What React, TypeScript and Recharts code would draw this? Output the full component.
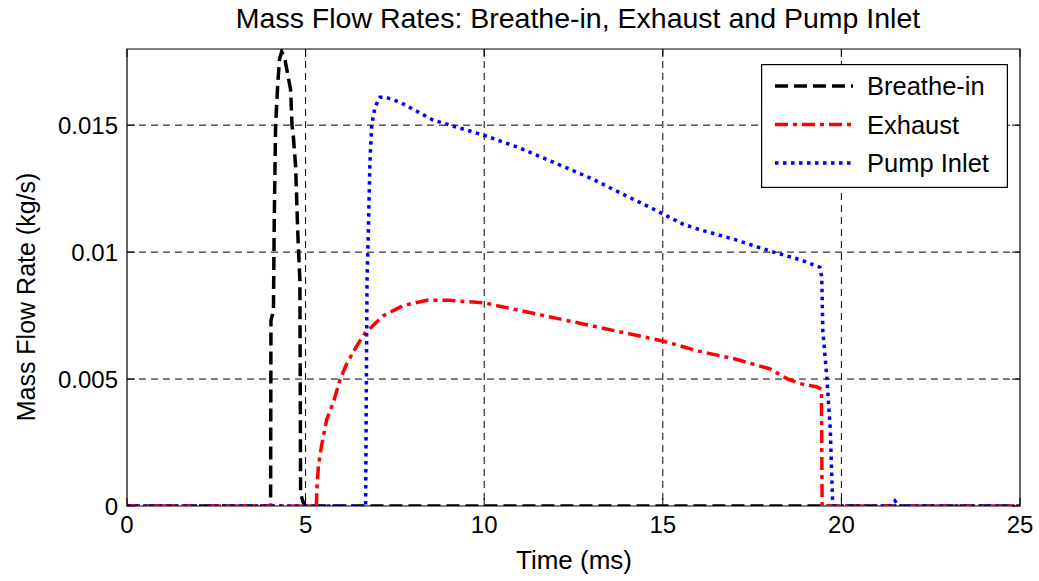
import React from "react";
import {
  LineChart,
  Line,
  XAxis,
  YAxis,
  CartesianGrid,
  Legend,
  ReferenceArea,
} from "recharts";

// ---------- data ----------
const breatheTime = [0, 4.02, 4.03, 4.1, 4.12, 4.16, 4.22, 4.27, 4.33, 4.42, 4.5, 4.58, 4.62, 4.66, 4.72, 4.78, 4.84, 4.86, 4.92, 4.98, 25];
const breatheValues = [0, 0, 0.0073, 0.0077, 0.011, 0.015, 0.0166, 0.0176, 0.0179, 0.0176, 0.017, 0.0164, 0.015, 0.0145, 0.0134, 0.0108, 0.0089, 0.0005, 0.0002, 0, 0];

const exhaustTime = [0, 5.3, 5.32, 5.36, 5.45, 5.59, 5.78, 5.97, 6.15, 6.43, 6.66, 7.18, 7.74, 8.39, 9.0, 10, 11, 12, 13, 14, 15, 16, 17, 18, 18.5, 18.9, 19.3, 19.44, 19.46, 25];
const exhaustValues = [0, 0, 0.0008, 0.0016, 0.0024, 0.0034, 0.0041, 0.005, 0.0056, 0.0063, 0.0068, 0.0075, 0.0079, 0.0081, 0.0081, 0.008, 0.0077, 0.0074, 0.0071, 0.0068, 0.0065, 0.0061, 0.0058, 0.0054, 0.005, 0.0048, 0.0047, 0.0046, 0, 0];

const pumpTime = [0, 6.68, 6.72, 6.76, 6.8, 6.85, 6.94, 7.08, 7.24, 7.65, 8.57, 10, 11, 12, 13, 14, 14.73, 15.57, 16, 17, 18.1, 18.85, 19.4, 19.45, 19.48, 19.59, 19.69, 19.75, 19.8, 21.4, 21.5, 21.6, 25];
const pumpValues = [0, 0, 0.0089, 0.011, 0.0135, 0.015, 0.0157, 0.0161, 0.0161, 0.0159, 0.0152, 0.0146, 0.0141, 0.0135, 0.0129, 0.0122, 0.0117, 0.0111, 0.0109, 0.0105, 0.01, 0.0097, 0.0094, 0.009, 0.0069, 0.0051, 0.003, 0.0003, 0, 0, 0.0002, 0, 0];

const xTicks = [0, 5, 10, 15, 20, 25];
const yTicks = [0, 0.005, 0.01, 0.015];
const yTickLabels = ["0", "0.005", "0.01", "0.015"];

const seriesNames = ["Breathe-in", "Exhaust", "Pump Inlet"];
const seriesColors = ["#000000", "#ff0000", "#0000ff"];
const seriesDash = ["13 6", "13 5 4 5", "3.5 4.5"];

const toRows = (t: number[], v: number[]) => t.map((x, i) => ({ t: x, v: v[i] }));
const seriesData = [
  toRows(breatheTime, breatheValues),
  toRows(exhaustTime, exhaustValues),
  toRows(pumpTime, pumpValues),
];

// ---------- layout ----------
const W = 1039;
const H = 581;
const PL = 127;
const PR = 1020;
const PT = 49;
const PB = 506;
const FONT = "'Liberation Sans', Arial, Helvetica, sans-serif";
const TICK_FS = 24;
const TICK_LEN = 8;
const LINE_W = 3.5;

const XTick = (props: any) => {
  const { x, payload } = props;
  return (
    <g>
      <line x1={x} x2={x} y1={PB} y2={PB - TICK_LEN} stroke="#000" strokeWidth={1} />
      <line x1={x} x2={x} y1={PT} y2={PT + TICK_LEN} stroke="#000" strokeWidth={1} />
      <text x={x} y={PB + 27} textAnchor="middle" fontSize={TICK_FS} fontFamily={FONT} fill="#000">
        {String(payload.value)}
      </text>
    </g>
  );
};

const YTick = (props: any) => {
  const { y, payload } = props;
  const label = yTickLabels[yTicks.indexOf(payload.value)] ?? String(payload.value);
  return (
    <g>
      <line x1={PL} x2={PL + TICK_LEN} y1={y} y2={y} stroke="#000" strokeWidth={1} />
      <line x1={PR} x2={PR - TICK_LEN} y1={y} y2={y} stroke="#000" strokeWidth={1} />
      <text x={PL - 9} y={y + 9} textAnchor="end" fontSize={TICK_FS} fontFamily={FONT} fill="#000">
        {label}
      </text>
    </g>
  );
};

const LegendBox = (props: any) => {
  const payload = props.payload || [];
  return (
    <svg width={247} height={124} style={{ display: "block" }}>
      <rect x={0.6} y={0.6} width={245.8} height={122.8} fill="#fff" stroke="#000" strokeWidth={1.2} />
      {payload.map((p: any, i: number) => {
        const idx = seriesNames.indexOf(p.value);
        const cy = 22 + i * 38.5;
        return (
          <g key={p.value}>
            <line
              x1={14}
              x2={92}
              y1={cy}
              y2={cy}
              stroke={seriesColors[idx]}
              strokeWidth={LINE_W}
              strokeDasharray={seriesDash[idx]}
            />
            <text x={106} y={cy + 9} fontSize={25.5} fontFamily={FONT} fill="#000">
              {p.value}
            </text>
          </g>
        );
      })}
    </svg>
  );
};

export default function App() {
  return (
    <div style={{ position: "absolute", left: 0, top: 0, width: W, height: H, background: "#fff" }}>
      <svg
        width={W}
        height={H}
        style={{ position: "absolute", left: 0, top: 0, pointerEvents: "none" }}
      >
        <text x={578} y={28} textAnchor="middle" fontSize={28.5} fontFamily={FONT} fill="#000">
          Mass Flow Rates: Breathe-in, Exhaust and Pump Inlet
        </text>
        <text x={574} y={569} textAnchor="middle" fontSize={26} fontFamily={FONT} fill="#000">
          Time (ms)
        </text>
        <text
          x={0}
          y={0}
          transform={`translate(35, 297) rotate(-90)`}
          textAnchor="middle"
          fontSize={25}
          fontFamily={FONT}
          fill="#000"
        >
          Mass Flow Rate (kg/s)
        </text>
      </svg>
      <div style={{ position: "absolute", left: 0, top: 0 }}>
        <LineChart
          width={W}
          height={H}
          margin={{ top: PT, right: W - PR, left: 0, bottom: 0 }}
        >
          <CartesianGrid
            stroke="#000"
            strokeWidth={1}
            strokeDasharray="7 5"
            horizontalValues={[0.005, 0.01, 0.015]}
            verticalValues={[5, 10, 15, 20]}
          />
          <XAxis
            type="number"
            dataKey="t"
            domain={[0, 25]}
            ticks={xTicks}
            allowDataOverflow
            height={H - PB}
            axisLine={false}
            tickLine={false}
            tick={<XTick />}
            interval={0}
          />
          <YAxis
            type="number"
            dataKey="v"
            domain={[0, 0.018]}
            ticks={yTicks}
            allowDataOverflow
            width={PL}
            axisLine={false}
            tickLine={false}
            tick={<YTick />}
            interval={0}
          />
          {seriesNames.map((name, i) => (
            <Line
              key={name}
              name={name}
              data={seriesData[i]}
              dataKey="v"
              type="linear"
              stroke={seriesColors[i]}
              strokeWidth={LINE_W}
              strokeDasharray={seriesDash[i]}
              dot={false}
              activeDot={false}
              isAnimationActive={false}
              legendType="line"
            />
          ))}
          <ReferenceArea
            x1={0}
            x2={25}
            y1={0}
            y2={0.018}
            fill="none"
            fillOpacity={0}
            stroke="#000"
            strokeWidth={1.2}
            ifOverflow="visible"
          />
          <Legend
            layout="vertical"
            align="center"
            verticalAlign="middle"
            content={<LegendBox />}
            wrapperStyle={{ position: "absolute", left: 761, top: 64, width: 247, height: 124 }}
          />
        </LineChart>
      </div>
    </div>
  );
}
